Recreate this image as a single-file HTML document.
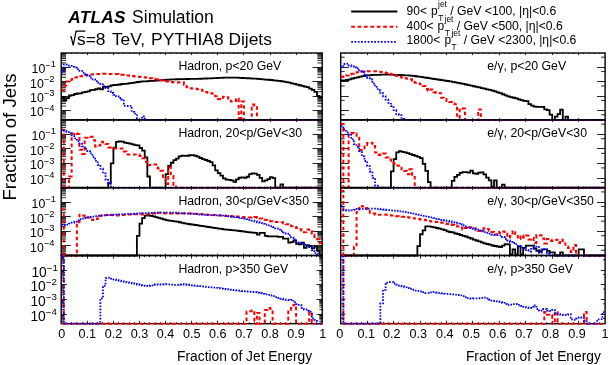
<!DOCTYPE html>
<html><head><meta charset="utf-8"><title>ATLAS</title><style>html,body{margin:0;padding:0;background:#fff;overflow:hidden}svg{display:block;will-change:transform}text{font-family:"Liberation Sans",sans-serif}</style></head><body>
<svg width="610" height="365" viewBox="0 0 610 365">
<rect width="610" height="365" fill="#fff"/>
<path d="M61.2 67.5h9.6M322.2 67.5h-9.6M61.2 62.91h4.8M322.2 62.91h-4.8M61.2 60.38h4.8M322.2 60.38h-4.8M61.2 58.58h4.8M322.2 58.58h-4.8M61.2 57.18h4.8M322.2 57.18h-4.8M61.2 56.04h4.8M322.2 56.04h-4.8M61.2 55.08h4.8M322.2 55.08h-4.8M61.2 54.24h4.8M322.2 54.24h-4.8M61.2 53.5h4.8M322.2 53.5h-4.8M61.2 81.5h9.6M322.2 81.5h-9.6M61.2 77.32h4.8M322.2 77.32h-4.8M61.2 74.78h4.8M322.2 74.78h-4.8M61.2 72.98h4.8M322.2 72.98h-4.8M61.2 71.58h4.8M322.2 71.58h-4.8M61.2 70.44h4.8M322.2 70.44h-4.8M61.2 69.48h4.8M322.2 69.48h-4.8M61.2 68.64h4.8M322.2 68.64h-4.8M61.2 67.91h4.8M322.2 67.91h-4.8M61.2 96.5h9.6M322.2 96.5h-9.6M61.2 91.72h4.8M322.2 91.72h-4.8M61.2 89.18h4.8M322.2 89.18h-4.8M61.2 87.38h4.8M322.2 87.38h-4.8M61.2 85.99h4.8M322.2 85.99h-4.8M61.2 84.85h4.8M322.2 84.85h-4.8M61.2 83.88h4.8M322.2 83.88h-4.8M61.2 83.05h4.8M322.2 83.05h-4.8M61.2 82.31h4.8M322.2 82.31h-4.8M61.2 110.5h9.6M322.2 110.5h-9.6M61.2 106.12h4.8M322.2 106.12h-4.8M61.2 103.58h4.8M322.2 103.58h-4.8M61.2 101.79h4.8M322.2 101.79h-4.8M61.2 100.39h4.8M322.2 100.39h-4.8M61.2 99.25h4.8M322.2 99.25h-4.8M61.2 98.28h4.8M322.2 98.28h-4.8M61.2 97.45h4.8M322.2 97.45h-4.8M61.2 96.71h4.8M322.2 96.71h-4.8M61.2 117.99h4.8M322.2 117.99h-4.8M61.2 116.19h4.8M322.2 116.19h-4.8M61.2 114.79h4.8M322.2 114.79h-4.8M61.2 113.65h4.8M322.2 113.65h-4.8M61.2 112.69h4.8M322.2 112.69h-4.8M61.2 111.85h4.8M322.2 111.85h-4.8M61.2 111.12h4.8M322.2 111.12h-4.8M66.5 119.9v-0.9M66.5 53v1M71.5 119.9v-0.9M71.5 53v1M76.5 119.9v-0.9M76.5 53v1M82.5 119.9v-0.9M82.5 53v1M87.5 119.9v-1.7M87.5 53v2.1M92.5 119.9v-0.9M92.5 53v1M97.5 119.9v-0.9M97.5 53v1M102.5 119.9v-0.9M102.5 53v1M108.5 119.9v-0.9M108.5 53v1M113.5 119.9v-1.7M113.5 53v2.1M118.5 119.9v-0.9M118.5 53v1M123.5 119.9v-0.9M123.5 53v1M129.5 119.9v-0.9M129.5 53v1M134.5 119.9v-0.9M134.5 53v1M139.5 119.9v-1.7M139.5 53v2.1M144.5 119.9v-0.9M144.5 53v1M149.5 119.9v-0.9M149.5 53v1M155.5 119.9v-0.9M155.5 53v1M160.5 119.9v-0.9M160.5 53v1M165.5 119.9v-1.7M165.5 53v2.1M170.5 119.9v-0.9M170.5 53v1M176.5 119.9v-0.9M176.5 53v1M181.5 119.9v-0.9M181.5 53v1M186.5 119.9v-0.9M186.5 53v1M191.5 119.9v-1.7M191.5 53v2.1M196.5 119.9v-0.9M196.5 53v1M202.5 119.9v-0.9M202.5 53v1M207.5 119.9v-0.9M207.5 53v1M212.5 119.9v-0.9M212.5 53v1M217.5 119.9v-1.7M217.5 53v2.1M223.5 119.9v-0.9M223.5 53v1M228.5 119.9v-0.9M228.5 53v1M233.5 119.9v-0.9M233.5 53v1M238.5 119.9v-0.9M238.5 53v1M243.5 119.9v-1.7M243.5 53v2.1M249.5 119.9v-0.9M249.5 53v1M254.5 119.9v-0.9M254.5 53v1M259.5 119.9v-0.9M259.5 53v1M264.5 119.9v-0.9M264.5 53v1M270.5 119.9v-1.7M270.5 53v2.1M275.5 119.9v-0.9M275.5 53v1M280.5 119.9v-0.9M280.5 53v1M285.5 119.9v-0.9M285.5 53v1M290.5 119.9v-0.9M290.5 53v1M296.5 119.9v-1.7M296.5 53v2.1M301.5 119.9v-0.9M301.5 53v1M306.5 119.9v-0.9M306.5 53v1M311.5 119.9v-0.9M311.5 53v1M316.5 119.9v-0.9M316.5 53v1" stroke="#000" stroke-width="0.85" fill="none"/>
<rect x="61.2" y="53" width="261" height="66.9" fill="none" stroke="#000" stroke-width="1.4"/>
<path d="M61.2 97.01H63.81V100.49H66.42V98.07H69.03V95.5H71.64V95.18H74.25V93.99H76.86V93.5H79.47V93.47H82.08V92.28H84.69V91.79H87.3V91.44H89.91V90.1H92.52V89.97H95.13V89.25H97.74V88.46H100.35V89.34H102.96V86.8H105.57V86.78H108.18V86.43H110.79V85.46H113.4V84.99H116.01V84.88H118.62V84.48H121.23V83.99H123.84V83.79H126.45V83.58H129.06V83.18H131.67V82.79H134.28V82.4H136.89V82.01H139.5V81.61H142.11V81.44H144.72V81.28H147.33V81.11H149.94V80.95H152.55V80.78H155.16V80.61H157.77V80.4H160.38V80.18H162.99V79.96H165.6V79.74H168.21V79.56H170.82V79.45H173.43V79.34H176.04V79.23H178.65V79.16H181.26V79.12H183.87V79.07H186.48V79.02H189.09V78.97H191.7V78.92H194.31V78.87H196.92V78.83H199.53V78.74H202.14V78.63H204.75V78.51H207.36V78.39H209.97V78.28H212.58V78.16H215.19V78.04H217.8V77.93H220.41V77.81H223.02V77.7H225.63V77.7H228.24V77.7H230.85V77.7H233.46V77.7H236.07V77.72H238.68V77.85H241.29V77.99H243.9V78.12H246.51V78.26H249.12V78.39H251.73V78.53H254.34V78.7H256.95V78.91H259.56V79.13H262.17V79.34H264.78V79.55H267.39V79.76H270V79.98H272.61V80.29H275.22V80.61H277.83V80.93H280.44V81.25H283.05V81.57H285.66V82.08H288.27V82.7H290.88V83.33H293.49V83.95H296.1V84.58H298.71V85.23H301.32V85.89H303.93V86.55H306.54V87.22H309.15V88.57H311.76V89.92H314.37V91.81H316.98V95.94H319.59V97.92H322.2" stroke="#000" stroke-width="1.8" fill="none"/>
<path d="M61.2 89.99H63.81V85.48H66.42V81.49H69.03V79.99H71.64V78.97H74.25V77.49H76.86V76.98H79.47V76.29H82.08V75.78H84.69V75.19H87.3V74.79H89.91V74.59H92.52V74.29H95.13V73.99H97.74V73.88H100.35V73.77H102.96V73.73H105.57V73.8H108.18V73.88H110.79V73.95H113.4V74.03H116.01V74.11H118.62V74.43H121.23V74.75H123.84V75.06H126.45V75.39H129.06V75.73H131.67V76.07H134.28V76.41H136.89V76.72H139.5V76.99H142.11V77.25H144.72V77.52H147.33V77.9H149.94V78.32H152.55V78.74H155.16V79.16H157.77V79.68H160.38V80.21H162.99V80.74H165.6V81.28H168.21V81.73H170.82V82.06H173.43V82.39H176.04V82.51H178.65V82.24H181.26V82.16H183.87V84.78H186.48V87.13H189.09V88.17H191.7V88.49H194.31V88.81H196.92V89.13H199.53V89.8H202.14V90.86H204.75V91.92H207.36V92.64H209.97V93.18H212.58V93.71H215.19V96.14H217.8V98.92H220.41V99.22H223.02V96.7H225.63V97.22H228.24V98.85H230.85V101.59H233.46V101.01H236.07V98.52H238.68V117.89H241.29V101.43H243.9V119.9H246.51V119.9H249.12V119.9H251.73V104.52H254.34V106H256.95V119.9H259.56V119.9H262.17V119.9H264.78V119.9H267.39V119.9H270V119.9H272.61V119.9H275.22V119.9H277.83V119.9H280.44V119.9H283.05V119.9H285.66V119.9H288.27V119.9H290.88V119.9H293.49V119.9H296.1V119.9H298.71V119.9H301.32V119.9H303.93V119.9H306.54V119.9H309.15V119.9H311.76V119.9H314.37V119.9H316.98V119.9H319.59V119.9H322.2" stroke="#ff0000" stroke-width="2" fill="none" stroke-dasharray="3.7 2.7"/>
<path d="M61.2 71.99H63.81V64.5H66.42V64.61H69.03V65.81H71.64V66.81H74.25V67.63H76.86V69.05H79.47V70.85H82.08V72.55H84.69V74.07H87.3V75.87H89.91V77.58H92.52V79.38H95.13V81.08H97.74V82.69H100.35V84.4H102.96V86.13H105.57V88.2H108.18V91.18H110.79V93H113.4V94.8H116.01V96.41H118.62V98.01H121.23V99.49H123.84V105.87H126.45V106H129.06V105.8H131.67V111.84H134.28V113.69H136.89V119.9H139.5V119.9H142.11V116.3H144.72V119.9H147.33V119.9H149.94V119.9H152.55V119.9H155.16V119.9H157.77V119.9H160.38V119.9H162.99V119.9H165.6V119.9H168.21V119.9H170.82V119.9H173.43V119.9H176.04V119.9H178.65V119.9H181.26V119.9H183.87V119.9H186.48V119.9H189.09V119.9H191.7V119.9H194.31V119.9H196.92V119.9H199.53V119.9H202.14V119.9H204.75V119.9H207.36V119.9H209.97V119.9H212.58V119.9H215.19V119.9H217.8V119.9H220.41V119.9H223.02V119.9H225.63V119.9H228.24V119.9H230.85V119.9H233.46V119.9H236.07V119.9H238.68V119.9H241.29V119.9H243.9V119.9H246.51V119.9H249.12V119.9H251.73V119.9H254.34V119.9H256.95V119.9H259.56V119.9H262.17V119.9H264.78V119.9H267.39V119.9H270V119.9H272.61V119.9H275.22V119.9H277.83V119.9H280.44V119.9H283.05V119.9H285.66V119.9H288.27V119.9H290.88V119.9H293.49V119.9H296.1V119.9H298.71V119.9H301.32V119.9H303.93V119.9H306.54V119.9H309.15V119.9H311.76V119.9H314.37V119.9H316.98V119.9H319.59V119.9H322.2" stroke="#0000ff" stroke-width="1.8" fill="none" stroke-dasharray="1.6 1.5"/>
<path d="M61.2 134.5h9.6M322.2 134.5h-9.6M61.2 129.94h4.8M322.2 129.94h-4.8M61.2 127.37h4.8M322.2 127.37h-4.8M61.2 125.55h4.8M322.2 125.55h-4.8M61.2 124.13h4.8M322.2 124.13h-4.8M61.2 122.98h4.8M322.2 122.98h-4.8M61.2 122h4.8M322.2 122h-4.8M61.2 121.15h4.8M322.2 121.15h-4.8M61.2 120.41h4.8M322.2 120.41h-4.8M61.2 148.5h9.6M322.2 148.5h-9.6M61.2 144.54h4.8M322.2 144.54h-4.8M61.2 141.97h4.8M322.2 141.97h-4.8M61.2 140.14h4.8M322.2 140.14h-4.8M61.2 138.73h4.8M322.2 138.73h-4.8M61.2 137.57h4.8M322.2 137.57h-4.8M61.2 136.6h4.8M322.2 136.6h-4.8M61.2 135.75h4.8M322.2 135.75h-4.8M61.2 135h4.8M322.2 135h-4.8M61.2 163.5h9.6M322.2 163.5h-9.6M61.2 159.13h4.8M322.2 159.13h-4.8M61.2 156.56h4.8M322.2 156.56h-4.8M61.2 154.74h4.8M322.2 154.74h-4.8M61.2 153.33h4.8M322.2 153.33h-4.8M61.2 152.17h4.8M322.2 152.17h-4.8M61.2 151.19h4.8M322.2 151.19h-4.8M61.2 150.35h4.8M322.2 150.35h-4.8M61.2 149.6h4.8M322.2 149.6h-4.8M61.2 178.5h9.6M322.2 178.5h-9.6M61.2 173.73h4.8M322.2 173.73h-4.8M61.2 171.16h4.8M322.2 171.16h-4.8M61.2 169.34h4.8M322.2 169.34h-4.8M61.2 167.92h4.8M322.2 167.92h-4.8M61.2 166.77h4.8M322.2 166.77h-4.8M61.2 165.79h4.8M322.2 165.79h-4.8M61.2 164.94h4.8M322.2 164.94h-4.8M61.2 164.2h4.8M322.2 164.2h-4.8M61.2 185.76h4.8M322.2 185.76h-4.8M61.2 183.93h4.8M322.2 183.93h-4.8M61.2 182.52h4.8M322.2 182.52h-4.8M61.2 181.36h4.8M322.2 181.36h-4.8M61.2 180.39h4.8M322.2 180.39h-4.8M61.2 179.54h4.8M322.2 179.54h-4.8M61.2 178.79h4.8M322.2 178.79h-4.8M66.5 187.7v-0.9M66.5 119.9v1M71.5 187.7v-0.9M71.5 119.9v1M76.5 187.7v-0.9M76.5 119.9v1M82.5 187.7v-0.9M82.5 119.9v1M87.5 187.7v-1.7M87.5 119.9v2.1M92.5 187.7v-0.9M92.5 119.9v1M97.5 187.7v-0.9M97.5 119.9v1M102.5 187.7v-0.9M102.5 119.9v1M108.5 187.7v-0.9M108.5 119.9v1M113.5 187.7v-1.7M113.5 119.9v2.1M118.5 187.7v-0.9M118.5 119.9v1M123.5 187.7v-0.9M123.5 119.9v1M129.5 187.7v-0.9M129.5 119.9v1M134.5 187.7v-0.9M134.5 119.9v1M139.5 187.7v-1.7M139.5 119.9v2.1M144.5 187.7v-0.9M144.5 119.9v1M149.5 187.7v-0.9M149.5 119.9v1M155.5 187.7v-0.9M155.5 119.9v1M160.5 187.7v-0.9M160.5 119.9v1M165.5 187.7v-1.7M165.5 119.9v2.1M170.5 187.7v-0.9M170.5 119.9v1M176.5 187.7v-0.9M176.5 119.9v1M181.5 187.7v-0.9M181.5 119.9v1M186.5 187.7v-0.9M186.5 119.9v1M191.5 187.7v-1.7M191.5 119.9v2.1M196.5 187.7v-0.9M196.5 119.9v1M202.5 187.7v-0.9M202.5 119.9v1M207.5 187.7v-0.9M207.5 119.9v1M212.5 187.7v-0.9M212.5 119.9v1M217.5 187.7v-1.7M217.5 119.9v2.1M223.5 187.7v-0.9M223.5 119.9v1M228.5 187.7v-0.9M228.5 119.9v1M233.5 187.7v-0.9M233.5 119.9v1M238.5 187.7v-0.9M238.5 119.9v1M243.5 187.7v-1.7M243.5 119.9v2.1M249.5 187.7v-0.9M249.5 119.9v1M254.5 187.7v-0.9M254.5 119.9v1M259.5 187.7v-0.9M259.5 119.9v1M264.5 187.7v-0.9M264.5 119.9v1M270.5 187.7v-1.7M270.5 119.9v2.1M275.5 187.7v-0.9M275.5 119.9v1M280.5 187.7v-0.9M280.5 119.9v1M285.5 187.7v-0.9M285.5 119.9v1M290.5 187.7v-0.9M290.5 119.9v1M296.5 187.7v-1.7M296.5 119.9v2.1M301.5 187.7v-0.9M301.5 119.9v1M306.5 187.7v-0.9M306.5 119.9v1M311.5 187.7v-0.9M311.5 119.9v1M316.5 187.7v-0.9M316.5 119.9v1" stroke="#000" stroke-width="0.85" fill="none"/>
<rect x="61.2" y="119.9" width="261" height="67.8" fill="none" stroke="#000" stroke-width="1.4"/>
<path d="M61.2 187.7H63.81V187.7H66.42V187.7H69.03V187.7H71.64V187.7H74.25V187.7H76.86V187.7H79.47V187.7H82.08V187.7H84.69V187.7H87.3V187.7H89.91V187.7H92.52V187.7H95.13V187.7H97.74V187.7H100.35V187.7H102.96V187.7H105.57V187.7H108.18V183.5H110.79V163.44H113.4V147.69H116.01V141.8H118.62V141.33H121.23V141.65H123.84V142.71H126.45V143.15H129.06V143.59H131.67V144.34H134.28V145.2H136.89V145.4H139.5V148H142.11V150.54H144.72V157.39H147.33V176.5H149.94V187.7H152.55V187.7H155.16V187.7H157.77V187.7H160.38V187.7H162.99V187.7H165.6V174.03H168.21V165.78H170.82V162.75H173.43V160.21H176.04V158.69H178.65V156.42H181.26V155.61H183.87V155.97H186.48V155.77H189.09V155.26H191.7V155.1H194.31V155.74H196.92V156.67H199.53V158.01H202.14V159.09H204.75V159.98H207.36V160.98H209.97V162.04H212.58V165.36H215.19V170.3H217.8V173.11H220.41V175.71H223.02V178.38H225.63V179.62H228.24V179.83H230.85V180.31H233.46V181.76H236.07V179.39H238.68V177.76H241.29V177.29H243.9V177.93H246.51V176.75H249.12V174.11H251.73V173.3H254.34V173.64H256.95V174.84H259.56V177.9H262.17V181.37H264.78V180.4H267.39V179.2H270V177.19H272.61V178.2H275.22V187.7H277.83V187.7H280.44V184.4H283.05V187.7H285.66V187.7H288.27V187.7H290.88V187.7H293.49V187.7H296.1V187.7H298.71V187.7H301.32V187.7H303.93V187.7H306.54V187.7H309.15V187.7H311.76V187.7H314.37V187.7H316.98V187.7H319.59V187.7H322.2" stroke="#000" stroke-width="1.8" fill="none"/>
<path d="M61.2 129.8H63.81V187.7H66.42V187.7H69.03V176.42H71.64V133.79H74.25V133.2H76.86V134.01H79.47V149.74H82.08V153.95H84.69V137.66H87.3V136.7H89.91V136.84H92.52V140.13H95.13V146.55H97.74V145.48H100.35V141.74H102.96V142.39H105.57V143.96H108.18V147.6H110.79V147.67H113.4V148.6H116.01V148.6H118.62V148.6H121.23V148.6H123.84V151.62H126.45V154.5H129.06V154.5H131.67V154.5H134.28V154.5H136.89V154.5H139.5V155.93H142.11V158.19H144.72V161.7H147.33V165.18H149.94V164.77H152.55V164.4H155.16V164.4H157.77V168.41H160.38V170.69H162.99V176.89H165.6V183.88H168.21V167.35H170.82V175.96H173.43V185H176.04V187.7H178.65V187.7H181.26V187.7H183.87V187.7H186.48V187.7H189.09V187.7H191.7V187.7H194.31V187.7H196.92V187.7H199.53V187.7H202.14V187.7H204.75V187.7H207.36V187.7H209.97V187.7H212.58V187.7H215.19V187.7H217.8V187.7H220.41V187.7H223.02V187.7H225.63V187.7H228.24V187.7H230.85V187.7H233.46V187.7H236.07V187.7H238.68V187.7H241.29V187.7H243.9V187.7H246.51V187.7H249.12V187.7H251.73V187.7H254.34V187.7H256.95V187.7H259.56V187.7H262.17V187.7H264.78V187.7H267.39V187.7H270V187.7H272.61V187.7H275.22V187.7H277.83V187.7H280.44V187.7H283.05V187.7H285.66V187.7H288.27V187.7H290.88V187.7H293.49V187.7H296.1V187.7H298.71V187.7H301.32V187.7H303.93V187.7H306.54V187.7H309.15V187.7H311.76V187.7H314.37V187.7H316.98V187.7H319.59V187.7H322.2" stroke="#ff0000" stroke-width="2" fill="none" stroke-dasharray="3.7 2.7"/>
<path d="M61.2 129.78H63.81V130.91H66.42V132.12H69.03V133.12H71.64V135.45H74.25V138.28H76.86V141.16H79.47V143.77H82.08V146.38H84.69V148.92H87.3V151H89.91V153.47H92.52V157.18H95.13V160.89H97.74V164.73H100.35V168.67H102.96V173.45H105.57V179.94H108.18V182.49H110.79V187.7H113.4V187.7H116.01V187.7H118.62V187.7H121.23V187.7H123.84V187.7H126.45V187.7H129.06V187.7H131.67V187.7H134.28V187.7H136.89V187.7H139.5V187.7H142.11V187.7H144.72V187.7H147.33V187.7H149.94V187.7H152.55V187.7H155.16V187.7H157.77V187.7H160.38V187.7H162.99V187.7H165.6V187.7H168.21V187.7H170.82V187.7H173.43V187.7H176.04V187.7H178.65V187.7H181.26V187.7H183.87V187.7H186.48V187.7H189.09V187.7H191.7V187.7H194.31V187.7H196.92V187.7H199.53V187.7H202.14V187.7H204.75V187.7H207.36V187.7H209.97V187.7H212.58V187.7H215.19V187.7H217.8V187.7H220.41V187.7H223.02V187.7H225.63V187.7H228.24V187.7H230.85V187.7H233.46V187.7H236.07V187.7H238.68V187.7H241.29V187.7H243.9V187.7H246.51V187.7H249.12V187.7H251.73V187.7H254.34V187.7H256.95V187.7H259.56V187.7H262.17V187.7H264.78V187.7H267.39V187.7H270V187.7H272.61V187.7H275.22V187.7H277.83V187.7H280.44V187.7H283.05V187.7H285.66V187.7H288.27V187.7H290.88V187.7H293.49V187.7H296.1V187.7H298.71V187.7H301.32V187.7H303.93V187.7H306.54V187.7H309.15V187.7H311.76V187.7H314.37V187.7H316.98V187.7H319.59V187.7H322.2" stroke="#0000ff" stroke-width="1.8" fill="none" stroke-dasharray="1.6 1.5"/>
<path d="M61.2 202.5h9.6M322.2 202.5h-9.6M61.2 197.74h4.8M322.2 197.74h-4.8M61.2 195.17h4.8M322.2 195.17h-4.8M61.2 193.35h4.8M322.2 193.35h-4.8M61.2 191.93h4.8M322.2 191.93h-4.8M61.2 190.78h4.8M322.2 190.78h-4.8M61.2 189.8h4.8M322.2 189.8h-4.8M61.2 188.95h4.8M322.2 188.95h-4.8M61.2 188.21h4.8M322.2 188.21h-4.8M61.2 216.5h9.6M322.2 216.5h-9.6M61.2 212.34h4.8M322.2 212.34h-4.8M61.2 209.77h4.8M322.2 209.77h-4.8M61.2 207.94h4.8M322.2 207.94h-4.8M61.2 206.53h4.8M322.2 206.53h-4.8M61.2 205.37h4.8M322.2 205.37h-4.8M61.2 204.4h4.8M322.2 204.4h-4.8M61.2 203.55h4.8M322.2 203.55h-4.8M61.2 202.8h4.8M322.2 202.8h-4.8M61.2 231.5h9.6M322.2 231.5h-9.6M61.2 226.93h4.8M322.2 226.93h-4.8M61.2 224.36h4.8M322.2 224.36h-4.8M61.2 222.54h4.8M322.2 222.54h-4.8M61.2 221.13h4.8M322.2 221.13h-4.8M61.2 219.97h4.8M322.2 219.97h-4.8M61.2 218.99h4.8M322.2 218.99h-4.8M61.2 218.15h4.8M322.2 218.15h-4.8M61.2 217.4h4.8M322.2 217.4h-4.8M61.2 245.5h9.6M322.2 245.5h-9.6M61.2 241.53h4.8M322.2 241.53h-4.8M61.2 238.96h4.8M322.2 238.96h-4.8M61.2 237.14h4.8M322.2 237.14h-4.8M61.2 235.72h4.8M322.2 235.72h-4.8M61.2 234.57h4.8M322.2 234.57h-4.8M61.2 233.59h4.8M322.2 233.59h-4.8M61.2 232.74h4.8M322.2 232.74h-4.8M61.2 232h4.8M322.2 232h-4.8M61.2 253.56h4.8M322.2 253.56h-4.8M61.2 251.73h4.8M322.2 251.73h-4.8M61.2 250.32h4.8M322.2 250.32h-4.8M61.2 249.16h4.8M322.2 249.16h-4.8M61.2 248.19h4.8M322.2 248.19h-4.8M61.2 247.34h4.8M322.2 247.34h-4.8M61.2 246.59h4.8M322.2 246.59h-4.8M66.5 255.5v-0.9M66.5 187.7v1M71.5 255.5v-0.9M71.5 187.7v1M76.5 255.5v-0.9M76.5 187.7v1M82.5 255.5v-0.9M82.5 187.7v1M87.5 255.5v-1.7M87.5 187.7v2.1M92.5 255.5v-0.9M92.5 187.7v1M97.5 255.5v-0.9M97.5 187.7v1M102.5 255.5v-0.9M102.5 187.7v1M108.5 255.5v-0.9M108.5 187.7v1M113.5 255.5v-1.7M113.5 187.7v2.1M118.5 255.5v-0.9M118.5 187.7v1M123.5 255.5v-0.9M123.5 187.7v1M129.5 255.5v-0.9M129.5 187.7v1M134.5 255.5v-0.9M134.5 187.7v1M139.5 255.5v-1.7M139.5 187.7v2.1M144.5 255.5v-0.9M144.5 187.7v1M149.5 255.5v-0.9M149.5 187.7v1M155.5 255.5v-0.9M155.5 187.7v1M160.5 255.5v-0.9M160.5 187.7v1M165.5 255.5v-1.7M165.5 187.7v2.1M170.5 255.5v-0.9M170.5 187.7v1M176.5 255.5v-0.9M176.5 187.7v1M181.5 255.5v-0.9M181.5 187.7v1M186.5 255.5v-0.9M186.5 187.7v1M191.5 255.5v-1.7M191.5 187.7v2.1M196.5 255.5v-0.9M196.5 187.7v1M202.5 255.5v-0.9M202.5 187.7v1M207.5 255.5v-0.9M207.5 187.7v1M212.5 255.5v-0.9M212.5 187.7v1M217.5 255.5v-1.7M217.5 187.7v2.1M223.5 255.5v-0.9M223.5 187.7v1M228.5 255.5v-0.9M228.5 187.7v1M233.5 255.5v-0.9M233.5 187.7v1M238.5 255.5v-0.9M238.5 187.7v1M243.5 255.5v-1.7M243.5 187.7v2.1M249.5 255.5v-0.9M249.5 187.7v1M254.5 255.5v-0.9M254.5 187.7v1M259.5 255.5v-0.9M259.5 187.7v1M264.5 255.5v-0.9M264.5 187.7v1M270.5 255.5v-1.7M270.5 187.7v2.1M275.5 255.5v-0.9M275.5 187.7v1M280.5 255.5v-0.9M280.5 187.7v1M285.5 255.5v-0.9M285.5 187.7v1M290.5 255.5v-0.9M290.5 187.7v1M296.5 255.5v-1.7M296.5 187.7v2.1M301.5 255.5v-0.9M301.5 187.7v1M306.5 255.5v-0.9M306.5 187.7v1M311.5 255.5v-0.9M311.5 187.7v1M316.5 255.5v-0.9M316.5 187.7v1" stroke="#000" stroke-width="0.85" fill="none"/>
<rect x="61.2" y="187.7" width="261" height="67.8" fill="none" stroke="#000" stroke-width="1.4"/>
<path d="M61.2 255.5H63.81V255.5H66.42V255.5H69.03V255.5H71.64V255.5H74.25V255.5H76.86V255.5H79.47V255.5H82.08V255.5H84.69V255.5H87.3V255.5H89.91V255.5H92.52V255.5H95.13V255.5H97.74V255.5H100.35V255.5H102.96V255.5H105.57V255.5H108.18V255.5H110.79V255.5H113.4V255.5H116.01V255.5H118.62V255.5H121.23V255.5H123.84V255.5H126.45V255.5H129.06V255.5H131.67V255.5H134.28V255.5H136.89V235.9H139.5V223.59H142.11V218.19H144.72V215.7H147.33V215.23H149.94V215.78H152.55V216.4H155.16V217.14H157.77V217.93H160.38V218.72H162.99V219.43H165.6V220.09H168.21V220.63H170.82V220.96H173.43V221.29H176.04V221.7H178.65V222.25H181.26V222.8H183.87V223.35H186.48V223.87H189.09V224.25H191.7V224.63H194.31V225.02H196.92V225.4H199.53V225.79H202.14V226.19H204.75V226.6H207.36V227H209.97V227.4H212.58V227.79H215.19V228.17H217.8V228.55H220.41V228.94H223.02V229.31H225.63V229.57H228.24V229.82H230.85V230.08H233.46V230.33H236.07V230.62H238.68V230.98H241.29V231.34H243.9V231.7H246.51V232.06H249.12V232.37H251.73V232.63H254.34V232.9H256.95V234.6H259.56V232.9H262.17V232.91H264.78V235.8H267.39V236.3H270V236.3H272.61V236.3H275.22V236.3H277.83V236.9H280.44V236.9H283.05V238.6H285.66V238.61H288.27V242.7H290.88V242.1H293.49V240.41H296.1V243.8H298.71V244.4H301.32V242.71H303.93V247.8H306.54V245.5H309.15V246H311.76V248.4H314.37V246.71H316.98V250.7H319.59V255.5H322.2" stroke="#000" stroke-width="1.8" fill="none"/>
<path d="M61.2 209.5H63.81V255.5H66.42V255.5H69.03V255.5H71.64V255.5H74.25V255.5H76.86V222.3H79.47V214.63H82.08V215.54H84.69V216.64H87.3V217.6H89.91V219.54H92.52V220H95.13V219H97.74V217.41H100.35V215.57H102.96V215.24H105.57V214.91H108.18V214.62H110.79V214.95H113.4V215.28H116.01V215.59H118.62V215.32H121.23V215.06H123.84V214.8H126.45V214.57H129.06V214.47H131.67V214.36H134.28V214.26H136.89V214.25H139.5V214.36H142.11V214.46H144.72V214.57H147.33V214.23H149.94V213.7H152.55V213.17H155.16V212.65H157.77V212.8H160.38V213.02H162.99V213.24H165.6V213.46H168.21V213.6H170.82V213.6H173.43V213.6H176.04V213.57H178.65V213.5H181.26V213.43H183.87V213.36H186.48V213.33H189.09V213.48H191.7V213.62H194.31V213.77H196.92V213.92H199.53V214.1H202.14V214.31H204.75V214.52H207.36V214.74H209.97V214.95H212.58V215.11H215.19V215.26H217.8V215.41H220.41V215.56H223.02V215.71H225.63V215.88H228.24V216.05H230.85V216.22H233.46V216.39H236.07V216.57H238.68V216.78H241.29V217H243.9V217.21H246.51V217.42H249.12V217.39H251.73V217.21H254.34V217.03H256.95V217.7H259.56V218.55H262.17V219.39H264.78V220.05H267.39V220.71H270V221.37H272.61V221.9H275.22V221.9H277.83V221.9H280.44V222.31H283.05V223.33H285.66V224.36H288.27V225.3H290.88V226.18H293.49V227.06H296.1V228.12H298.71V229.25H301.32V230.38H303.93V232.26H306.54V229.52H309.15V230.97H311.76V234.55H314.37V236.98H316.98V239.19H319.59V243.19H322.2" stroke="#ff0000" stroke-width="2" fill="none" stroke-dasharray="3.7 2.7"/>
<path d="M61.2 225.5H63.81V225.02H66.42V224.53H69.03V223.58H71.64V222.58H74.25V221.59H76.86V220.29H79.47V219.24H82.08V218.61H84.69V217.99H87.3V217.44H89.91V217.02H92.52V216.59H95.13V216.17H97.74V215.84H100.35V215.58H102.96V215.31H105.57V215.04H108.18V214.91H110.79V214.81H113.4V214.7H116.01V214.59H118.62V214.43H121.23V214.28H123.84V214.12H126.45V213.97H129.06V213.87H131.67V213.76H134.28V213.66H136.89V213.53H139.5V213.37H142.11V213.21H144.72V213.05H147.33V212.93H149.94V212.82H152.55V212.71H155.16V212.61H157.77V212.6H160.38V212.6H162.99V212.6H165.6V212.6H168.21V212.6H170.82V212.6H173.43V212.6H176.04V212.68H178.65V212.89H181.26V213.1H183.87V213.32H186.48V213.53H189.09V213.75H191.7V213.96H194.31V214.17H196.92V214.39H199.53V214.56H202.14V214.69H204.75V214.81H207.36V214.94H209.97V215.07H212.58V215.2H215.19V215.32H217.8V215.45H220.41V215.58H223.02V215.71H225.63V215.99H228.24V216.26H230.85V216.54H233.46V216.82H236.07V217.17H238.68V217.68H241.29V218.19H243.9V218.7H246.51V219.21H249.12V219.89H251.73V220.67H254.34V221.46H256.95V222.24H259.56V223.03H262.17V223.81H264.78V224.6H267.39V225.38H270V226.17H272.61V227.06H275.22V228.38H277.83V229.71H280.44V231.02H283.05V232.33H285.66V233.63H288.27V235.31H290.88V237.28H293.49V239.7H296.1V242.31H298.71V243.31H301.32V243.93H303.93V244.57H306.54V245.23H309.15V246.99H311.76V250.11H314.37V253.1H316.98V255.5H319.59V255.5H322.2" stroke="#0000ff" stroke-width="1.8" fill="none" stroke-dasharray="1.6 1.5"/>
<path d="M61.2 270.5h5.7M322.2 270.5h-5.7M61.2 265.6h2.9M322.2 265.6h-2.9M61.2 263.01h2.9M322.2 263.01h-2.9M61.2 261.18h2.9M322.2 261.18h-2.9M61.2 259.76h2.9M322.2 259.76h-2.9M61.2 258.59h2.9M322.2 258.59h-2.9M61.2 257.61h2.9M322.2 257.61h-2.9M61.2 256.76h2.9M322.2 256.76h-2.9M61.2 256.01h2.9M322.2 256.01h-2.9M61.2 284.5h5.7M322.2 284.5h-5.7M61.2 280.28h2.9M322.2 280.28h-2.9M61.2 277.7h2.9M322.2 277.7h-2.9M61.2 275.86h2.9M322.2 275.86h-2.9M61.2 274.44h2.9M322.2 274.44h-2.9M61.2 273.28h2.9M322.2 273.28h-2.9M61.2 272.29h2.9M322.2 272.29h-2.9M61.2 271.44h2.9M322.2 271.44h-2.9M61.2 270.69h2.9M322.2 270.69h-2.9M61.2 299.5h5.7M322.2 299.5h-5.7M61.2 294.96h2.9M322.2 294.96h-2.9M61.2 292.38h2.9M322.2 292.38h-2.9M61.2 290.54h2.9M322.2 290.54h-2.9M61.2 289.12h2.9M322.2 289.12h-2.9M61.2 287.96h2.9M322.2 287.96h-2.9M61.2 286.98h2.9M322.2 286.98h-2.9M61.2 286.12h2.9M322.2 286.12h-2.9M61.2 285.37h2.9M322.2 285.37h-2.9M61.2 314.5h5.7M322.2 314.5h-5.7M61.2 309.65h2.9M322.2 309.65h-2.9M61.2 307.06h2.9M322.2 307.06h-2.9M61.2 305.23h2.9M322.2 305.23h-2.9M61.2 303.8h2.9M322.2 303.8h-2.9M61.2 302.64h2.9M322.2 302.64h-2.9M61.2 301.66h2.9M322.2 301.66h-2.9M61.2 300.81h2.9M322.2 300.81h-2.9M61.2 300.06h2.9M322.2 300.06h-2.9M61.2 321.74h2.9M322.2 321.74h-2.9M61.2 319.91h2.9M322.2 319.91h-2.9M61.2 318.49h2.9M322.2 318.49h-2.9M61.2 317.32h2.9M322.2 317.32h-2.9M61.2 316.34h2.9M322.2 316.34h-2.9M61.2 315.49h2.9M322.2 315.49h-2.9M61.2 314.74h2.9M322.2 314.74h-2.9M66.5 323.7v-1.5M66.5 255.5v1.6M71.5 323.7v-1.5M71.5 255.5v1.6M76.5 323.7v-1.5M76.5 255.5v1.6M82.5 323.7v-1.5M82.5 255.5v1.6M87.5 323.7v-2.9M87.5 255.5v3.2M92.5 323.7v-1.5M92.5 255.5v1.6M97.5 323.7v-1.5M97.5 255.5v1.6M102.5 323.7v-1.5M102.5 255.5v1.6M108.5 323.7v-1.5M108.5 255.5v1.6M113.5 323.7v-2.9M113.5 255.5v3.2M118.5 323.7v-1.5M118.5 255.5v1.6M123.5 323.7v-1.5M123.5 255.5v1.6M129.5 323.7v-1.5M129.5 255.5v1.6M134.5 323.7v-1.5M134.5 255.5v1.6M139.5 323.7v-2.9M139.5 255.5v3.2M144.5 323.7v-1.5M144.5 255.5v1.6M149.5 323.7v-1.5M149.5 255.5v1.6M155.5 323.7v-1.5M155.5 255.5v1.6M160.5 323.7v-1.5M160.5 255.5v1.6M165.5 323.7v-2.9M165.5 255.5v3.2M170.5 323.7v-1.5M170.5 255.5v1.6M176.5 323.7v-1.5M176.5 255.5v1.6M181.5 323.7v-1.5M181.5 255.5v1.6M186.5 323.7v-1.5M186.5 255.5v1.6M191.5 323.7v-2.9M191.5 255.5v3.2M196.5 323.7v-1.5M196.5 255.5v1.6M202.5 323.7v-1.5M202.5 255.5v1.6M207.5 323.7v-1.5M207.5 255.5v1.6M212.5 323.7v-1.5M212.5 255.5v1.6M217.5 323.7v-2.9M217.5 255.5v3.2M223.5 323.7v-1.5M223.5 255.5v1.6M228.5 323.7v-1.5M228.5 255.5v1.6M233.5 323.7v-1.5M233.5 255.5v1.6M238.5 323.7v-1.5M238.5 255.5v1.6M243.5 323.7v-2.9M243.5 255.5v3.2M249.5 323.7v-1.5M249.5 255.5v1.6M254.5 323.7v-1.5M254.5 255.5v1.6M259.5 323.7v-1.5M259.5 255.5v1.6M264.5 323.7v-1.5M264.5 255.5v1.6M270.5 323.7v-2.9M270.5 255.5v3.2M275.5 323.7v-1.5M275.5 255.5v1.6M280.5 323.7v-1.5M280.5 255.5v1.6M285.5 323.7v-1.5M285.5 255.5v1.6M290.5 323.7v-1.5M290.5 255.5v1.6M296.5 323.7v-2.9M296.5 255.5v3.2M301.5 323.7v-1.5M301.5 255.5v1.6M306.5 323.7v-1.5M306.5 255.5v1.6M311.5 323.7v-1.5M311.5 255.5v1.6M316.5 323.7v-1.5M316.5 255.5v1.6" stroke="#000" stroke-width="0.85" fill="none"/>
<rect x="61.2" y="255.5" width="261" height="68.2" fill="none" stroke="#000" stroke-width="1.4"/>
<path d="M61.2 255.5H63.81V323.7H66.42V323.7H69.03V323.7H71.64V323.7H74.25V323.7H76.86V323.7H79.47V323.7H82.08V323.7H84.69V323.7H87.3V323.7H89.91V323.7H92.52V323.7H95.13V323.7H97.74V323.7H100.35V323.7H102.96V323.7H105.57V323.7H108.18V323.7H110.79V323.7H113.4V323.7H116.01V323.7H118.62V323.7H121.23V323.7H123.84V323.7H126.45V323.7H129.06V323.7H131.67V323.7H134.28V323.7H136.89V323.7H139.5V323.7H142.11V323.7H144.72V323.7H147.33V323.7H149.94V323.7H152.55V323.7H155.16V323.7H157.77V323.7H160.38V323.7H162.99V323.7H165.6V323.7H168.21V323.7H170.82V323.7H173.43V323.7H176.04V323.7H178.65V323.7H181.26V323.7H183.87V323.7H186.48V323.7H189.09V323.7H191.7V323.7H194.31V323.7H196.92V323.7H199.53V323.7H202.14V323.7H204.75V323.7H207.36V323.7H209.97V323.7H212.58V323.7H215.19V323.7H217.8V323.7H220.41V323.7H223.02V323.7H225.63V323.7H228.24V323.7H230.85V323.7H233.46V323.7H236.07V323.7H238.68V323.7H241.29V323.7H243.9V323.7H246.51V311.4H249.12V311.19H251.73V310.6H254.34V323.7H256.95V312.9H259.56V323.7H262.17V323.7H264.78V310H267.39V308H270V308.8H272.61V323.7H275.22V323.7H277.83V323.7H280.44V323.7H283.05V323.7H285.66V323.7H288.27V310H290.88V308.01H293.49V304.71H296.1V323.7H298.71V323.7H301.32V323.7H303.93V323.7H306.54V323.7H309.15V312.1H311.76V323.7H314.37V323.7H316.98V323.7H319.59V323.7H322.2" stroke="#ff0000" stroke-width="2" fill="none" stroke-dasharray="3.7 2.7"/>
<path d="M61.2 255.5H63.81V323.7H66.42V323.7H69.03V323.7H71.64V323.7H74.25V323.7H76.86V323.7H79.47V323.7H82.08V323.7H84.69V323.7H87.3V323.7H89.91V323.7H92.52V323.7H95.13V323.7H97.74V323.7H100.35V298.4H102.96V285.77H105.57V278.07H108.18V277.7H110.79V278.54H113.4V279.39H116.01V280.22H118.62V280.75H121.23V281.28H123.84V281.81H126.45V282.33H129.06V282.86H131.67V283.39H134.28V283.91H136.89V284.48H139.5V285.1H142.11V285.65H144.72V285.92H147.33V286.18H149.94V285.37H152.55V284.49H155.16V284.32H157.77V284.5H160.38V284.53H162.99V284.35H165.6V284.23H168.21V284.44H170.82V284.65H173.43V284.87H176.04V284.87H178.65V284.53H181.26V284.22H183.87V284.49H186.48V284.77H189.09V285.05H191.7V285.32H194.31V285.6H196.92V285.9H199.53V286.2H202.14V286.5H204.75V286.79H207.36V287.08H209.97V287.35H212.58V287.63H215.19V287.9H217.8V288.18H220.41V288.53H223.02V288.89H225.63V289.26H228.24V289.62H230.85V289.95H233.46V290.21H236.07V290.47H238.68V290.72H241.29V290.98H243.9V291.24H246.51V291.49H249.12V291.75H251.73V292H254.34V292.26H256.95V292.74H259.56V293.26H262.17V293.79H264.78V294.32H267.39V294.92H270V295.52H272.61V296.18H275.22V297.07H277.83V297.96H280.44V298.74H283.05V299.34H285.66V299.94H288.27V300.05H290.88V299.78H293.49V302.36H296.1V304.06H298.71V304.97H301.32V307.95H303.93V309.49H306.54V310.81H309.15V311.66H311.76V318.45H314.37V319.9H316.98V323.7H319.59V323.7H322.2" stroke="#0000ff" stroke-width="1.8" fill="none" stroke-dasharray="1.6 1.5"/>
<path d="M340.7 67.5h8.1M605.1 67.5h-8.1M340.7 57.18h4M605.1 57.18h-4M340.7 81.5h8.1M605.1 81.5h-8.1M340.7 71.58h4M605.1 71.58h-4M340.7 96.5h8.1M605.1 96.5h-8.1M340.7 85.99h4M605.1 85.99h-4M340.7 110.5h8.1M605.1 110.5h-8.1M340.7 100.39h4M605.1 100.39h-4M340.7 114.79h4M605.1 114.79h-4M345.5 119.9v-0.9M345.5 53v1M351.5 119.9v-0.9M351.5 53v1M356.5 119.9v-0.9M356.5 53v1M361.5 119.9v-0.9M361.5 53v1M367.5 119.9v-1.7M367.5 53v2.1M372.5 119.9v-0.9M372.5 53v1M377.5 119.9v-0.9M377.5 53v1M383.5 119.9v-0.9M383.5 53v1M388.5 119.9v-0.9M388.5 53v1M393.5 119.9v-1.7M393.5 53v2.1M398.5 119.9v-0.9M398.5 53v1M404.5 119.9v-0.9M404.5 53v1M409.5 119.9v-0.9M409.5 53v1M414.5 119.9v-0.9M414.5 53v1M420.5 119.9v-1.7M420.5 53v2.1M425.5 119.9v-0.9M425.5 53v1M430.5 119.9v-0.9M430.5 53v1M435.5 119.9v-0.9M435.5 53v1M441.5 119.9v-0.9M441.5 53v1M446.5 119.9v-1.7M446.5 53v2.1M451.5 119.9v-0.9M451.5 53v1M457.5 119.9v-0.9M457.5 53v1M462.5 119.9v-0.9M462.5 53v1M467.5 119.9v-0.9M467.5 53v1M472.5 119.9v-1.7M472.5 53v2.1M478.5 119.9v-0.9M478.5 53v1M483.5 119.9v-0.9M483.5 53v1M488.5 119.9v-0.9M488.5 53v1M494.5 119.9v-0.9M494.5 53v1M499.5 119.9v-1.7M499.5 53v2.1M504.5 119.9v-0.9M504.5 53v1M509.5 119.9v-0.9M509.5 53v1M515.5 119.9v-0.9M515.5 53v1M520.5 119.9v-0.9M520.5 53v1M525.5 119.9v-1.7M525.5 53v2.1M531.5 119.9v-0.9M531.5 53v1M536.5 119.9v-0.9M536.5 53v1M541.5 119.9v-0.9M541.5 53v1M546.5 119.9v-0.9M546.5 53v1M552.5 119.9v-1.7M552.5 53v2.1M557.5 119.9v-0.9M557.5 53v1M562.5 119.9v-0.9M562.5 53v1M568.5 119.9v-0.9M568.5 53v1M573.5 119.9v-0.9M573.5 53v1M578.5 119.9v-1.7M578.5 53v2.1M583.5 119.9v-0.9M583.5 53v1M589.5 119.9v-0.9M589.5 53v1M594.5 119.9v-0.9M594.5 53v1M599.5 119.9v-0.9M599.5 53v1" stroke="#000" stroke-width="0.85" fill="none"/>
<rect x="340.7" y="53" width="264.4" height="66.9" fill="none" stroke="#000" stroke-width="1.4"/>
<path d="M340.7 80.5H343.34V80.29H345.99V80H348.63V79.28H351.28V78.5H353.92V77.79H356.56V77.3H359.21V76.69H361.85V76.11H364.5V75.6H367.14V75.3H369.78V75.1H372.43V74.9H375.07V74.84H377.72V74.78H380.36V74.72H383V74.7H385.65V74.7H388.29V74.7H390.94V74.7H393.58V74.81H396.22V74.91H398.87V75.02H401.51V75.14H404.16V75.3H406.8V75.46H409.44V75.63H412.09V75.89H414.73V76.23H417.38V76.58H420.02V76.93H422.66V77.34H425.31V77.77H427.95V78.2H430.6V78.63H433.24V79H435.88V79.38H438.53V79.75H441.17V80.14H443.82V80.57H446.46V81H449.1V81.43H451.75V81.89H454.39V82.37H457.04V82.88H459.68V83.42H462.32V83.97H464.97V84.51H467.61V85.07H470.26V85.65H472.9V86.24H475.54V86.82H478.19V87.4H480.83V88.03H483.48V88.67H486.12V89.32H488.76V89.96H491.41V90.61H494.05V91.45H496.7V92.32H499.34V93.19H501.98V94.25H504.63V95.31H507.27V96.35H509.92V97.05H512.56V97.74H515.2V98.47H517.85V99.34H520.49V100.21H523.14V100.89H525.78V101.15H528.42V104.06H531.07V105.6H533.71V106.59H536.36V106.8H539V106.8H541.64V106.8H544.29V109.41H546.93V110.19H549.58V114.7H552.22V119.9H554.86V116.6H557.51V114.15H560.15V109.74H562.8V119.9H565.44V116.6H568.08V119.9H570.73V119.9H573.37V119.9H576.02V119.9H578.66V119.9H581.3V119.9H583.95V119.9H586.59V119.9H589.24V119.9H591.88V119.9H594.52V119.9H597.17V119.9H599.81V119.9H602.46V119.9H605.1" stroke="#000" stroke-width="1.8" fill="none"/>
<path d="M340.7 76.89H343.34V75.99H345.99V75.4H348.63V74.48H351.28V73.7H353.92V72.79H356.56V72.2H359.21V71.8H361.85V71.5H364.5V71.3H367.14V71.2H369.78V71.3H372.43V71.3H375.07V71.3H377.72V71.66H380.36V72.04H383V72.42H385.65V72.9H388.29V73.7H390.94V74.51H393.58V75.31H396.22V76.09H398.87V76.86H401.51V77.63H404.16V78.28H406.8V78.81H409.44V79.35H412.09V80.68H414.73V82.65H417.38V83.49H420.02V84.32H422.66V86.1H425.31V89.12H427.95V90.72H430.6V89.52H433.24V92.36H435.88V93H438.53V93.2H441.17V97.79H443.82V98.97H446.46V100.99H449.1V101.97H451.75V103.58H454.39V104.27H457.04V117.79H459.68V108.2H462.32V108.49H464.97V119.9H467.61V119.9H470.26V119.9H472.9V119.9H475.54V119.9H478.19V109.4H480.83V119.9H483.48V119.9H486.12V119.9H488.76V119.9H491.41V119.9H494.05V119.9H496.7V119.9H499.34V119.9H501.98V119.9H504.63V119.9H507.27V119.9H509.92V119.9H512.56V119.9H515.2V119.9H517.85V119.9H520.49V119.9H523.14V119.9H525.78V119.9H528.42V119.9H531.07V119.9H533.71V119.9H536.36V119.9H539V119.9H541.64V119.9H544.29V119.9H546.93V119.9H549.58V119.9H552.22V119.9H554.86V119.9H557.51V119.9H560.15V119.9H562.8V119.9H565.44V119.9H568.08V119.9H570.73V119.9H573.37V119.9H576.02V119.9H578.66V119.9H581.3V119.9H583.95V119.9H586.59V119.9H589.24V119.9H591.88V119.9H594.52V119.9H597.17V119.9H599.81V119.9H602.46V119.9H605.1" stroke="#ff0000" stroke-width="2" fill="none" stroke-dasharray="3.7 2.7"/>
<path d="M340.7 67.27H343.34V63.99H345.99V63.71H348.63V65.52H351.28V66.5H353.92V67.52H356.56V68.49H359.21V71.51H361.85V72H364.5V75.52H367.14V77.96H369.78V79.51H372.43V83.56H375.07V86.94H377.72V90.23H380.36V93.27H383V96.31H385.65V99.63H388.29V102.91H390.94V106.15H393.58V110.2H396.22V114.15H398.87V115.1H401.51V119H404.16V119.9H406.8V119.9H409.44V119.9H412.09V119.9H414.73V119.9H417.38V119.9H420.02V119.9H422.66V119.9H425.31V119.9H427.95V119.9H430.6V119.9H433.24V119.9H435.88V119.9H438.53V119.9H441.17V119.9H443.82V119.9H446.46V119.9H449.1V119.9H451.75V119.9H454.39V119.9H457.04V119.9H459.68V119.9H462.32V119.9H464.97V119.9H467.61V119.9H470.26V119.9H472.9V119.9H475.54V119.9H478.19V119.9H480.83V119.9H483.48V119.9H486.12V119.9H488.76V119.9H491.41V119.9H494.05V119.9H496.7V119.9H499.34V119.9H501.98V119.9H504.63V119.9H507.27V119.9H509.92V119.9H512.56V119.9H515.2V119.9H517.85V119.9H520.49V119.9H523.14V119.9H525.78V119.9H528.42V119.9H531.07V119.9H533.71V119.9H536.36V119.9H539V119.9H541.64V119.9H544.29V119.9H546.93V119.9H549.58V119.9H552.22V119.9H554.86V119.9H557.51V119.9H560.15V119.9H562.8V119.9H565.44V119.9H568.08V119.9H570.73V119.9H573.37V119.9H576.02V119.9H578.66V119.9H581.3V119.9H583.95V119.9H586.59V119.9H589.24V119.9H591.88V119.9H594.52V119.9H597.17V119.9H599.81V119.9H602.46V119.9H605.1" stroke="#0000ff" stroke-width="1.8" fill="none" stroke-dasharray="1.6 1.5"/>
<path d="M340.7 134.5h8.1M605.1 134.5h-8.1M340.7 124.13h4M605.1 124.13h-4M340.7 148.5h8.1M605.1 148.5h-8.1M340.7 138.73h4M605.1 138.73h-4M340.7 163.5h8.1M605.1 163.5h-8.1M340.7 153.33h4M605.1 153.33h-4M340.7 178.5h8.1M605.1 178.5h-8.1M340.7 167.92h4M605.1 167.92h-4M340.7 182.52h4M605.1 182.52h-4M345.5 187.7v-0.9M345.5 119.9v1M351.5 187.7v-0.9M351.5 119.9v1M356.5 187.7v-0.9M356.5 119.9v1M361.5 187.7v-0.9M361.5 119.9v1M367.5 187.7v-1.7M367.5 119.9v2.1M372.5 187.7v-0.9M372.5 119.9v1M377.5 187.7v-0.9M377.5 119.9v1M383.5 187.7v-0.9M383.5 119.9v1M388.5 187.7v-0.9M388.5 119.9v1M393.5 187.7v-1.7M393.5 119.9v2.1M398.5 187.7v-0.9M398.5 119.9v1M404.5 187.7v-0.9M404.5 119.9v1M409.5 187.7v-0.9M409.5 119.9v1M414.5 187.7v-0.9M414.5 119.9v1M420.5 187.7v-1.7M420.5 119.9v2.1M425.5 187.7v-0.9M425.5 119.9v1M430.5 187.7v-0.9M430.5 119.9v1M435.5 187.7v-0.9M435.5 119.9v1M441.5 187.7v-0.9M441.5 119.9v1M446.5 187.7v-1.7M446.5 119.9v2.1M451.5 187.7v-0.9M451.5 119.9v1M457.5 187.7v-0.9M457.5 119.9v1M462.5 187.7v-0.9M462.5 119.9v1M467.5 187.7v-0.9M467.5 119.9v1M472.5 187.7v-1.7M472.5 119.9v2.1M478.5 187.7v-0.9M478.5 119.9v1M483.5 187.7v-0.9M483.5 119.9v1M488.5 187.7v-0.9M488.5 119.9v1M494.5 187.7v-0.9M494.5 119.9v1M499.5 187.7v-1.7M499.5 119.9v2.1M504.5 187.7v-0.9M504.5 119.9v1M509.5 187.7v-0.9M509.5 119.9v1M515.5 187.7v-0.9M515.5 119.9v1M520.5 187.7v-0.9M520.5 119.9v1M525.5 187.7v-1.7M525.5 119.9v2.1M531.5 187.7v-0.9M531.5 119.9v1M536.5 187.7v-0.9M536.5 119.9v1M541.5 187.7v-0.9M541.5 119.9v1M546.5 187.7v-0.9M546.5 119.9v1M552.5 187.7v-1.7M552.5 119.9v2.1M557.5 187.7v-0.9M557.5 119.9v1M562.5 187.7v-0.9M562.5 119.9v1M568.5 187.7v-0.9M568.5 119.9v1M573.5 187.7v-0.9M573.5 119.9v1M578.5 187.7v-1.7M578.5 119.9v2.1M583.5 187.7v-0.9M583.5 119.9v1M589.5 187.7v-0.9M589.5 119.9v1M594.5 187.7v-0.9M594.5 119.9v1M599.5 187.7v-0.9M599.5 119.9v1" stroke="#000" stroke-width="0.85" fill="none"/>
<rect x="340.7" y="119.9" width="264.4" height="67.8" fill="none" stroke="#000" stroke-width="1.4"/>
<path d="M340.7 187.7H343.34V187.7H345.99V187.7H348.63V187.7H351.28V187.7H353.92V187.7H356.56V187.7H359.21V187.7H361.85V187.7H364.5V187.7H367.14V187.7H369.78V187.7H372.43V187.7H375.07V187.7H377.72V187.7H380.36V187.7H383V187.7H385.65V187.7H388.29V187.7H390.94V171.3H393.58V159.08H396.22V152.37H398.87V151.2H401.51V151.78H404.16V152.36H406.8V153.19H409.44V154.08H412.09V154.98H414.73V155.87H417.38V156.9H420.02V158.22H422.66V163.89H425.31V170.85H427.95V182.1H430.6V187.7H433.24V187.7H435.88V187.7H438.53V187.7H441.17V187.7H443.82V187.7H446.46V187.7H449.1V187.7H451.75V180.78H454.39V176.96H457.04V174.93H459.68V172.9H462.32V172.19H464.97V172.1H467.61V172.59H470.26V170.68H472.9V173.42H475.54V173.76H478.19V172.61H480.83V172.37H483.48V174.47H486.12V177.63H488.76V180.29H491.41V186.53H494.05V180.36H496.7V187.7H499.34V187.7H501.98V184.6H504.63V187.7H507.27V187.7H509.92V187.7H512.56V187.7H515.2V187.7H517.85V187.7H520.49V187.7H523.14V187.7H525.78V187.7H528.42V187.7H531.07V187.7H533.71V187.7H536.36V187.7H539V187.7H541.64V187.7H544.29V187.7H546.93V187.7H549.58V187.7H552.22V187.7H554.86V187.7H557.51V187.7H560.15V187.7H562.8V187.7H565.44V187.7H568.08V187.7H570.73V187.7H573.37V187.7H576.02V187.7H578.66V187.7H581.3V187.7H583.95V187.7H586.59V187.7H589.24V187.7H591.88V187.7H594.52V187.7H597.17V187.7H599.81V187.7H602.46V187.7H605.1" stroke="#000" stroke-width="1.8" fill="none"/>
<path d="M340.7 124H343.34V187.7H345.99V187.7H348.63V133.49H351.28V133H353.92V133.57H356.56V137.68H359.21V150H361.85V150H364.5V144.99H367.14V143.03H369.78V142.71H372.43V146.12H375.07V152.49H377.72V154.99H380.36V154.01H383V153.54H385.65V157.46H388.29V159.52H390.94V162.42H393.58V163.5H396.22V165.41H398.87V166H401.51V169.32H404.16V170.99H406.8V174.16H409.44V169.36H412.09V177H414.73V187.7H417.38V187.7H420.02V187.7H422.66V187.7H425.31V187.7H427.95V187.7H430.6V187.7H433.24V187.7H435.88V187.7H438.53V187.7H441.17V187.7H443.82V187.7H446.46V187.7H449.1V187.7H451.75V187.7H454.39V187.7H457.04V187.7H459.68V187.7H462.32V187.7H464.97V187.7H467.61V187.7H470.26V187.7H472.9V187.7H475.54V187.7H478.19V187.7H480.83V187.7H483.48V187.7H486.12V187.7H488.76V187.7H491.41V187.7H494.05V187.7H496.7V187.7H499.34V187.7H501.98V187.7H504.63V187.7H507.27V187.7H509.92V187.7H512.56V187.7H515.2V187.7H517.85V187.7H520.49V187.7H523.14V187.7H525.78V187.7H528.42V187.7H531.07V187.7H533.71V187.7H536.36V187.7H539V187.7H541.64V187.7H544.29V187.7H546.93V187.7H549.58V187.7H552.22V187.7H554.86V187.7H557.51V187.7H560.15V187.7H562.8V187.7H565.44V187.7H568.08V187.7H570.73V187.7H573.37V187.7H576.02V187.7H578.66V187.7H581.3V187.7H583.95V187.7H586.59V187.7H589.24V187.7H591.88V187.7H594.52V187.7H597.17V187.7H599.81V187.7H602.46V187.7H605.1" stroke="#ff0000" stroke-width="2" fill="none" stroke-dasharray="3.7 2.7"/>
<path d="M340.7 125.93H343.34V129.49H345.99V132.25H348.63V134.94H351.28V139.35H353.92V144.14H356.56V146.79H359.21V151.21H361.85V156.34H364.5V161.02H367.14V166.08H369.78V171.5H372.43V177.94H375.07V185.69H377.72V187.7H380.36V187.7H383V187.7H385.65V187.7H388.29V187.7H390.94V187.7H393.58V187.7H396.22V187.7H398.87V187.7H401.51V187.7H404.16V187.7H406.8V187.7H409.44V187.7H412.09V187.7H414.73V187.7H417.38V187.7H420.02V187.7H422.66V187.7H425.31V187.7H427.95V187.7H430.6V187.7H433.24V187.7H435.88V187.7H438.53V187.7H441.17V187.7H443.82V187.7H446.46V187.7H449.1V187.7H451.75V187.7H454.39V187.7H457.04V187.7H459.68V187.7H462.32V187.7H464.97V187.7H467.61V187.7H470.26V187.7H472.9V187.7H475.54V187.7H478.19V187.7H480.83V187.7H483.48V187.7H486.12V187.7H488.76V187.7H491.41V187.7H494.05V187.7H496.7V187.7H499.34V187.7H501.98V187.7H504.63V187.7H507.27V187.7H509.92V187.7H512.56V187.7H515.2V187.7H517.85V187.7H520.49V187.7H523.14V187.7H525.78V187.7H528.42V187.7H531.07V187.7H533.71V187.7H536.36V187.7H539V187.7H541.64V187.7H544.29V187.7H546.93V187.7H549.58V187.7H552.22V187.7H554.86V187.7H557.51V187.7H560.15V187.7H562.8V187.7H565.44V187.7H568.08V187.7H570.73V187.7H573.37V187.7H576.02V187.7H578.66V187.7H581.3V187.7H583.95V187.7H586.59V187.7H589.24V187.7H591.88V187.7H594.52V187.7H597.17V187.7H599.81V187.7H602.46V187.7H605.1" stroke="#0000ff" stroke-width="1.8" fill="none" stroke-dasharray="1.6 1.5"/>
<path d="M340.7 202.5h8.1M605.1 202.5h-8.1M340.7 191.93h4M605.1 191.93h-4M340.7 216.5h8.1M605.1 216.5h-8.1M340.7 206.53h4M605.1 206.53h-4M340.7 231.5h8.1M605.1 231.5h-8.1M340.7 221.13h4M605.1 221.13h-4M340.7 245.5h8.1M605.1 245.5h-8.1M340.7 235.72h4M605.1 235.72h-4M340.7 250.32h4M605.1 250.32h-4M345.5 255.5v-0.9M345.5 187.7v1M351.5 255.5v-0.9M351.5 187.7v1M356.5 255.5v-0.9M356.5 187.7v1M361.5 255.5v-0.9M361.5 187.7v1M367.5 255.5v-1.7M367.5 187.7v2.1M372.5 255.5v-0.9M372.5 187.7v1M377.5 255.5v-0.9M377.5 187.7v1M383.5 255.5v-0.9M383.5 187.7v1M388.5 255.5v-0.9M388.5 187.7v1M393.5 255.5v-1.7M393.5 187.7v2.1M398.5 255.5v-0.9M398.5 187.7v1M404.5 255.5v-0.9M404.5 187.7v1M409.5 255.5v-0.9M409.5 187.7v1M414.5 255.5v-0.9M414.5 187.7v1M420.5 255.5v-1.7M420.5 187.7v2.1M425.5 255.5v-0.9M425.5 187.7v1M430.5 255.5v-0.9M430.5 187.7v1M435.5 255.5v-0.9M435.5 187.7v1M441.5 255.5v-0.9M441.5 187.7v1M446.5 255.5v-1.7M446.5 187.7v2.1M451.5 255.5v-0.9M451.5 187.7v1M457.5 255.5v-0.9M457.5 187.7v1M462.5 255.5v-0.9M462.5 187.7v1M467.5 255.5v-0.9M467.5 187.7v1M472.5 255.5v-1.7M472.5 187.7v2.1M478.5 255.5v-0.9M478.5 187.7v1M483.5 255.5v-0.9M483.5 187.7v1M488.5 255.5v-0.9M488.5 187.7v1M494.5 255.5v-0.9M494.5 187.7v1M499.5 255.5v-1.7M499.5 187.7v2.1M504.5 255.5v-0.9M504.5 187.7v1M509.5 255.5v-0.9M509.5 187.7v1M515.5 255.5v-0.9M515.5 187.7v1M520.5 255.5v-0.9M520.5 187.7v1M525.5 255.5v-1.7M525.5 187.7v2.1M531.5 255.5v-0.9M531.5 187.7v1M536.5 255.5v-0.9M536.5 187.7v1M541.5 255.5v-0.9M541.5 187.7v1M546.5 255.5v-0.9M546.5 187.7v1M552.5 255.5v-1.7M552.5 187.7v2.1M557.5 255.5v-0.9M557.5 187.7v1M562.5 255.5v-0.9M562.5 187.7v1M568.5 255.5v-0.9M568.5 187.7v1M573.5 255.5v-0.9M573.5 187.7v1M578.5 255.5v-1.7M578.5 187.7v2.1M583.5 255.5v-0.9M583.5 187.7v1M589.5 255.5v-0.9M589.5 187.7v1M594.5 255.5v-0.9M594.5 187.7v1M599.5 255.5v-0.9M599.5 187.7v1" stroke="#000" stroke-width="0.85" fill="none"/>
<rect x="340.7" y="187.7" width="264.4" height="67.8" fill="none" stroke="#000" stroke-width="1.4"/>
<path d="M340.7 255.5H343.34V255.5H345.99V255.5H348.63V255.5H351.28V255.5H353.92V255.5H356.56V255.5H359.21V255.5H361.85V255.5H364.5V255.5H367.14V255.5H369.78V255.5H372.43V255.5H375.07V255.5H377.72V255.5H380.36V255.5H383V255.5H385.65V255.5H388.29V255.5H390.94V255.5H393.58V255.5H396.22V255.5H398.87V255.5H401.51V255.5H404.16V255.5H406.8V255.5H409.44V255.5H412.09V255.5H414.73V255.5H417.38V246.12H420.02V234.27H422.66V230.36H425.31V226.4H427.95V226.4H430.6V226.8H433.24V227.41H435.88V228.01H438.53V228.61H441.17V229.41H443.82V230.21H446.46V231.41H449.1V232H451.75V232.41H454.39V233.5H457.04V234.01H459.68V235.01H462.32V235.81H464.97V236.51H467.61V237.61H470.26V238.51H472.9V239.61H475.54V240.51H478.19V241.41H480.83V242.41H483.48V243.4H486.12V244.01H488.76V244.71H491.41V245.5H494.05V246H496.7V246.5H499.34V246.99H501.98V245.59H504.63V244.2H507.27V244.29H509.92V254.46H512.56V249.34H515.2V254.42H517.85V246.46H520.49V254.44H523.14V247.88H525.78V245.6H528.42V245.6H531.07V245.62H533.71V248.62H536.36V250.8H539V251.48H541.64V249.3H544.29V249.31H546.93V250.81H549.58V252.3H552.22V252.3H554.86V255.5H557.51V255.5H560.15V252.3H562.8V255.5H565.44V255.5H568.08V255.5H570.73V255.5H573.37V255.5H576.02V255.5H578.66V249.3H581.3V249.3H583.95V255.5H586.59V255.5H589.24V255.5H591.88V255.5H594.52V255.5H597.17V255.5H599.81V255.5H602.46V255.5H605.1" stroke="#000" stroke-width="1.8" fill="none"/>
<path d="M340.7 190.9H343.34V255.5H345.99V255.5H348.63V255.5H351.28V255.5H353.92V246.65H356.56V212.18H359.21V206.01H361.85V206.5H364.5V208.02H367.14V210.96H369.78V212.8H372.43V213.52H375.07V214.7H377.72V214.67H380.36V214.65H383V214.62H385.65V214.71H388.29V215.14H390.94V215.56H393.58V215.99H396.22V216.31H398.87V216.52H401.51V216.74H404.16V216.95H406.8V217.33H409.44V217.76H412.09V218.19H414.73V218.62H417.38V219.02H420.02V219.42H422.66V219.83H425.31V220.3H427.95V220.92H430.6V221.52H433.24V221.72H435.88V221.92H438.53V222.16H441.17V222.79H443.82V223.41H446.46V223.88H449.1V224.32H451.75V224.94H454.39V225.67H457.04V226.41H459.68V227.52H462.32V229.49H464.97V227.99H467.61V226.91H470.26V227.5H472.9V228.22H475.54V230.7H478.19V230.99H480.83V229.49H483.48V228.21H486.12V229.02H488.76V231.01H491.41V232.02H494.05V234.58H496.7V232.01H499.34V232.99H501.98V231.62H504.63V233.83H507.27V237.49H509.92V235.97H512.56V230.93H515.2V234.05H517.85V238.97H520.49V235.52H523.14V237.49H525.78V235.53H528.42V239.49H531.07V238.04H533.71V242.93H536.36V235H539V235.33H541.64V238.55H544.29V243.47H546.93V239.02H549.58V240.99H552.22V239.7H554.86V239.73H557.51V242.97H560.15V239.73H562.8V243.42H565.44V246.41H568.08V248.04H570.73V251.95H573.37V245H576.02V255.5H578.66V255.5H581.3V255.5H583.95V255.5H586.59V255.5H589.24V255.5H591.88V255.5H594.52V255.5H597.17V255.5H599.81V255.5H602.46V255.5H605.1" stroke="#ff0000" stroke-width="2" fill="none" stroke-dasharray="3.7 2.7"/>
<path d="M340.7 205.54H343.34V210.01H345.99V210.49H348.63V210.41H351.28V210.34H353.92V209.89H356.56V209H359.21V208.91H361.85V208.82H364.5V208.73H367.14V208.7H369.78V208.7H372.43V208.7H375.07V208.7H377.72V208.96H380.36V209.23H383V209.5H385.65V209.77H388.29V210.03H390.94V210.3H393.58V210.57H396.22V210.9H398.87V211.3H401.51V211.71H404.16V212.11H406.8V212.61H409.44V213.15H412.09V213.69H414.73V214.23H417.38V214.77H420.02V215.3H422.66V215.83H425.31V216.37H427.95V216.9H430.6V217.44H433.24V217.97H435.88V218.55H438.53V219.17H441.17V219.79H443.82V220.42H446.46V220.96H449.1V221.5H451.75V222.03H454.39V222.61H457.04V223.56H459.68V224.5H462.32V225.45H464.97V226.4H467.61V227.27H470.26V228.06H472.9V228.85H475.54V229.64H478.19V230.43H480.83V231.24H483.48V232.05H486.12V232.86H488.76V233.67H491.41V234.49H494.05V234.81H496.7V235.06H499.34V235.31H501.98V237.02H504.63V239.01H507.27V240.51H509.92V242.01H512.56V243.01H515.2V244.22H517.85V246.01H520.49V247.51H523.14V248.61H525.78V250.01H528.42V251.48H531.07V248.97H533.71V245.61H536.36V247.14H539V252.97H541.64V249.99H544.29V249.04H546.93V253.8H549.58V255.5H552.22V255.5H554.86V255.5H557.51V255.5H560.15V255.5H562.8V255.5H565.44V255.5H568.08V255.5H570.73V255.5H573.37V255.5H576.02V255.5H578.66V255.5H581.3V255.5H583.95V255.5H586.59V255.5H589.24V255.5H591.88V255.5H594.52V255.5H597.17V255.5H599.81V255.5H602.46V255.5H605.1" stroke="#0000ff" stroke-width="1.8" fill="none" stroke-dasharray="1.6 1.5"/>
<path d="M340.7 270.5h4.4M605.1 270.5h-4.4M340.7 259.76h2M605.1 259.76h-2M340.7 284.5h4.4M605.1 284.5h-4.4M340.7 274.44h2M605.1 274.44h-2M340.7 299.5h4.4M605.1 299.5h-4.4M340.7 289.12h2M605.1 289.12h-2M340.7 314.5h4.4M605.1 314.5h-4.4M340.7 303.8h2M605.1 303.8h-2M340.7 318.49h2M605.1 318.49h-2M345.5 323.7v-1.5M345.5 255.5v1.6M351.5 323.7v-1.5M351.5 255.5v1.6M356.5 323.7v-1.5M356.5 255.5v1.6M361.5 323.7v-1.5M361.5 255.5v1.6M367.5 323.7v-2.9M367.5 255.5v3.2M372.5 323.7v-1.5M372.5 255.5v1.6M377.5 323.7v-1.5M377.5 255.5v1.6M383.5 323.7v-1.5M383.5 255.5v1.6M388.5 323.7v-1.5M388.5 255.5v1.6M393.5 323.7v-2.9M393.5 255.5v3.2M398.5 323.7v-1.5M398.5 255.5v1.6M404.5 323.7v-1.5M404.5 255.5v1.6M409.5 323.7v-1.5M409.5 255.5v1.6M414.5 323.7v-1.5M414.5 255.5v1.6M420.5 323.7v-2.9M420.5 255.5v3.2M425.5 323.7v-1.5M425.5 255.5v1.6M430.5 323.7v-1.5M430.5 255.5v1.6M435.5 323.7v-1.5M435.5 255.5v1.6M441.5 323.7v-1.5M441.5 255.5v1.6M446.5 323.7v-2.9M446.5 255.5v3.2M451.5 323.7v-1.5M451.5 255.5v1.6M457.5 323.7v-1.5M457.5 255.5v1.6M462.5 323.7v-1.5M462.5 255.5v1.6M467.5 323.7v-1.5M467.5 255.5v1.6M472.5 323.7v-2.9M472.5 255.5v3.2M478.5 323.7v-1.5M478.5 255.5v1.6M483.5 323.7v-1.5M483.5 255.5v1.6M488.5 323.7v-1.5M488.5 255.5v1.6M494.5 323.7v-1.5M494.5 255.5v1.6M499.5 323.7v-2.9M499.5 255.5v3.2M504.5 323.7v-1.5M504.5 255.5v1.6M509.5 323.7v-1.5M509.5 255.5v1.6M515.5 323.7v-1.5M515.5 255.5v1.6M520.5 323.7v-1.5M520.5 255.5v1.6M525.5 323.7v-2.9M525.5 255.5v3.2M531.5 323.7v-1.5M531.5 255.5v1.6M536.5 323.7v-1.5M536.5 255.5v1.6M541.5 323.7v-1.5M541.5 255.5v1.6M546.5 323.7v-1.5M546.5 255.5v1.6M552.5 323.7v-2.9M552.5 255.5v3.2M557.5 323.7v-1.5M557.5 255.5v1.6M562.5 323.7v-1.5M562.5 255.5v1.6M568.5 323.7v-1.5M568.5 255.5v1.6M573.5 323.7v-1.5M573.5 255.5v1.6M578.5 323.7v-2.9M578.5 255.5v3.2M583.5 323.7v-1.5M583.5 255.5v1.6M589.5 323.7v-1.5M589.5 255.5v1.6M594.5 323.7v-1.5M594.5 255.5v1.6M599.5 323.7v-1.5M599.5 255.5v1.6" stroke="#000" stroke-width="0.85" fill="none"/>
<rect x="340.7" y="255.5" width="264.4" height="68.2" fill="none" stroke="#000" stroke-width="1.4"/>
<path d="M340.7 255.5H343.34V323.7H345.99V323.7H348.63V323.7H351.28V323.7H353.92V323.7H356.56V323.7H359.21V323.7H361.85V323.7H364.5V323.7H367.14V323.7H369.78V323.7H372.43V323.7H375.07V323.7H377.72V323.7H380.36V323.7H383V323.7H385.65V323.7H388.29V323.7H390.94V323.7H393.58V323.7H396.22V323.7H398.87V323.7H401.51V323.7H404.16V323.7H406.8V323.7H409.44V323.7H412.09V323.7H414.73V323.7H417.38V323.7H420.02V323.7H422.66V323.7H425.31V323.7H427.95V323.7H430.6V323.7H433.24V323.7H435.88V323.7H438.53V323.7H441.17V323.7H443.82V323.7H446.46V323.7H449.1V323.7H451.75V323.7H454.39V323.7H457.04V323.7H459.68V323.7H462.32V323.7H464.97V323.7H467.61V323.7H470.26V323.7H472.9V323.7H475.54V323.7H478.19V323.7H480.83V323.7H483.48V323.7H486.12V323.7H488.76V323.7H491.41V323.7H494.05V323.7H496.7V323.7H499.34V323.7H501.98V323.7H504.63V323.7H507.27V323.7H509.92V323.7H512.56V323.7H515.2V323.7H517.85V323.7H520.49V323.7H523.14V323.7H525.78V323.7H528.42V323.7H531.07V323.7H533.71V323.7H536.36V323.7H539V323.7H541.64V323.7H544.29V312H546.93V314.82H549.58V315H552.22V323.7H554.86V312H557.51V323.7H560.15V323.7H562.8V323.7H565.44V323.7H568.08V323.7H570.73V323.7H573.37V323.7H576.02V323.7H578.66V323.7H581.3V323.7H583.95V312H586.59V323.7H589.24V323.7H591.88V323.7H594.52V323.7H597.17V323.7H599.81V323.7H602.46V323.7H605.1" stroke="#ff0000" stroke-width="2" fill="none" stroke-dasharray="3.7 2.7"/>
<path d="M340.7 255.5H343.34V323.7H345.99V323.7H348.63V323.7H351.28V323.7H353.92V323.7H356.56V323.7H359.21V323.7H361.85V323.7H364.5V323.7H367.14V323.7H369.78V323.7H372.43V323.7H375.07V323.7H377.72V323.7H380.36V303.3H383V289.88H385.65V282.58H388.29V282.21H390.94V282.2H393.58V283.53H396.22V284.65H398.87V285.53H401.51V286.41H404.16V287.29H406.8V288.12H409.44V288.93H412.09V289.74H414.73V290.53H417.38V290.97H420.02V291.41H422.66V292.21H425.31V293.1H427.95V293.1H430.6V292.38H433.24V292.05H435.88V292.49H438.53V292.93H441.17V293.27H443.82V293.6H446.46V293.92H449.1V294.12H451.75V294.32H454.39V294.55H457.04V294.99H459.68V295.43H462.32V296.11H464.97V297.16H467.61V298.2H470.26V298.63H472.9V298.5H475.54V298.37H478.19V298.24H480.83V297.96H483.48V297.6H486.12V298.34H488.76V299.49H491.41V300.64H494.05V301.1H496.7V301.45H499.34V301.8H501.98V302.92H504.63V304.05H507.27V305.07H509.92V304.61H512.56V304.16H515.2V303.98H517.85V304.88H520.49V305.79H523.14V306.63H525.78V307.33H528.42V308.03H531.07V306.77H533.71V305.29H536.36V309.04H539V310.69H541.64V309.01H544.29V308.85H546.93V310.5H549.58V310.94H552.22V309.92H554.86V313.36H557.51V314.06H560.15V314.62H562.8V315.08H565.44V314.92H568.08V314.17H570.73V319.41H573.37V319.85H576.02V318.53H578.66V317.34H581.3V317.92H583.95V320.6H586.59V323.7H589.24V323.7H591.88V323.7H594.52V323.7H597.17V319.3H599.81V319.21H602.46V312.06H605.1" stroke="#0000ff" stroke-width="1.8" fill="none" stroke-dasharray="1.6 1.5"/>
<text x="31.6" y="73.1" font-size="12.3" fill="#000">10<tspan font-size="9.3" dy="-4.5">&#8722;</tspan><tspan font-size="9.3" dy="-1.3">1</tspan></text>
<text x="30.1" y="87.5" font-size="12.3" fill="#000">10<tspan font-size="9.3" dy="-4.5">&#8722;</tspan><tspan font-size="9.3" dy="-1.3">2</tspan></text>
<text x="30.1" y="101.9" font-size="12.3" fill="#000">10<tspan font-size="9.3" dy="-4.5">&#8722;</tspan><tspan font-size="9.3" dy="-1.3">3</tspan></text>
<text x="30.1" y="116.31" font-size="12.3" fill="#000">10<tspan font-size="9.3" dy="-4.5">&#8722;</tspan><tspan font-size="9.3" dy="-1.3">4</tspan></text>
<text x="31.6" y="140.19" font-size="12.3" fill="#000">10<tspan font-size="9.3" dy="-4.5">&#8722;</tspan><tspan font-size="9.3" dy="-1.3">1</tspan></text>
<text x="30.1" y="154.78" font-size="12.3" fill="#000">10<tspan font-size="9.3" dy="-4.5">&#8722;</tspan><tspan font-size="9.3" dy="-1.3">2</tspan></text>
<text x="30.1" y="169.38" font-size="12.3" fill="#000">10<tspan font-size="9.3" dy="-4.5">&#8722;</tspan><tspan font-size="9.3" dy="-1.3">3</tspan></text>
<text x="30.1" y="183.97" font-size="12.3" fill="#000">10<tspan font-size="9.3" dy="-4.5">&#8722;</tspan><tspan font-size="9.3" dy="-1.3">4</tspan></text>
<text x="31.6" y="207.99" font-size="12.3" fill="#000">10<tspan font-size="9.3" dy="-4.5">&#8722;</tspan><tspan font-size="9.3" dy="-1.3">1</tspan></text>
<text x="30.1" y="222.58" font-size="12.3" fill="#000">10<tspan font-size="9.3" dy="-4.5">&#8722;</tspan><tspan font-size="9.3" dy="-1.3">2</tspan></text>
<text x="30.1" y="237.18" font-size="12.3" fill="#000">10<tspan font-size="9.3" dy="-4.5">&#8722;</tspan><tspan font-size="9.3" dy="-1.3">3</tspan></text>
<text x="30.1" y="251.77" font-size="12.3" fill="#000">10<tspan font-size="9.3" dy="-4.5">&#8722;</tspan><tspan font-size="9.3" dy="-1.3">4</tspan></text>
<text x="31.45" y="276.57" font-size="13.8" fill="#000">10<tspan font-size="9.7" dy="-5.0">&#8722;</tspan><tspan font-size="9.7" dy="-0.9">1</tspan></text>
<text x="30.45" y="291.25" font-size="13.8" fill="#000">10<tspan font-size="9.7" dy="-5.0">&#8722;</tspan><tspan font-size="9.7" dy="-0.9">2</tspan></text>
<text x="30.45" y="305.93" font-size="13.8" fill="#000">10<tspan font-size="9.7" dy="-5.0">&#8722;</tspan><tspan font-size="9.7" dy="-0.9">3</tspan></text>
<text x="30.45" y="320.62" font-size="13.8" fill="#000">10<tspan font-size="9.7" dy="-5.0">&#8722;</tspan><tspan font-size="9.7" dy="-0.9">4</tspan></text>
<text x="61.7" y="338" font-size="12.6" text-anchor="middle" fill="#000">0</text>
<text x="87.3" y="338" font-size="12.6" text-anchor="middle" fill="#000">0.1</text>
<text x="113.4" y="338" font-size="12.6" text-anchor="middle" fill="#000">0.2</text>
<text x="139.5" y="338" font-size="12.6" text-anchor="middle" fill="#000">0.3</text>
<text x="165.6" y="338" font-size="12.6" text-anchor="middle" fill="#000">0.4</text>
<text x="191.7" y="338" font-size="12.6" text-anchor="middle" fill="#000">0.5</text>
<text x="217.8" y="338" font-size="12.6" text-anchor="middle" fill="#000">0.6</text>
<text x="243.9" y="338" font-size="12.6" text-anchor="middle" fill="#000">0.7</text>
<text x="270" y="338" font-size="12.6" text-anchor="middle" fill="#000">0.8</text>
<text x="296.1" y="338" font-size="12.6" text-anchor="middle" fill="#000">0.9</text>
<text x="322.7" y="338" font-size="12.6" text-anchor="middle" fill="#000">1</text>
<text x="339.7" y="338" font-size="12.6" text-anchor="middle" fill="#000">0</text>
<text x="366.14" y="338" font-size="12.6" text-anchor="middle" fill="#000">0.1</text>
<text x="391.88" y="338" font-size="12.6" text-anchor="middle" fill="#000">0.2</text>
<text x="418.32" y="338" font-size="12.6" text-anchor="middle" fill="#000">0.3</text>
<text x="444.76" y="338" font-size="12.6" text-anchor="middle" fill="#000">0.4</text>
<text x="471.2" y="338" font-size="12.6" text-anchor="middle" fill="#000">0.5</text>
<text x="497.64" y="338" font-size="12.6" text-anchor="middle" fill="#000">0.6</text>
<text x="524.08" y="338" font-size="12.6" text-anchor="middle" fill="#000">0.7</text>
<text x="550.52" y="338" font-size="12.6" text-anchor="middle" fill="#000">0.8</text>
<text x="576.96" y="338" font-size="12.6" text-anchor="middle" fill="#000">0.9</text>
<text x="605.1" y="338" font-size="12.6" text-anchor="middle" fill="#000">1</text>
<text x="177.1" y="361.1" font-size="13.8" fill="#000">Fraction of Jet Energy</text>
<text x="465.9" y="361.1" font-size="13.8" fill="#000">Fraction of Jet Energy</text>
<text transform="translate(15.6 200.6) rotate(-90)" x="0" y="0" font-size="18.6" fill="#000">Fraction of Jets</text>
<text x="178.4" y="69.6" font-size="12.3" fill="#000">Hadron, p&lt;20 GeV</text>
<text x="487.2" y="69.6" font-size="12.3" fill="#000">e/&#947;, p&lt;20 GeV</text>
<text x="178.4" y="137.4" font-size="12.3" fill="#000">Hadron, 20&lt;p/GeV&lt;30</text>
<text x="487.2" y="137.4" font-size="12.3" fill="#000">e/&#947;, 20&lt;p/GeV&lt;30</text>
<text x="178.4" y="205.2" font-size="12.3" fill="#000">Hadron, 30&lt;p/GeV&lt;350</text>
<text x="487.2" y="205.2" font-size="12.3" fill="#000">e/&#947;, 30&lt;p/GeV&lt;350</text>
<text x="178.4" y="273" font-size="12.3" fill="#000">Hadron, p&gt;350 GeV</text>
<text x="487.2" y="273" font-size="12.3" fill="#000">e/&#947;, p&gt;350 GeV</text>
<text x="68.3" y="22.7" font-size="17.2" font-weight="bold" font-style="italic" letter-spacing="0.3" fill="#000">ATLAS</text>
<text x="132.1" y="22.8" font-size="17.5" fill="#000">Simulation</text>
<path d="M70.2 37.4 L71.2 36.9 L73.2 45.4 L76.1 31.1 H85.4" stroke="#000" stroke-width="1.25" fill="none" stroke-linejoin="miter"/>
<text x="77.0" y="45.1" font-size="17.4" fill="#000">s=8</text>
<text x="111.9" y="45.1" font-size="17.4" fill="#000">TeV,</text>
<text x="151.1" y="45.1" font-size="17.4" fill="#000">PYTHIA8 Dijets</text>
<line x1="351.2" y1="11.4" x2="397.4" y2="11.4" stroke="#000" stroke-width="2"/>
<line x1="351.2" y1="26.7" x2="397.4" y2="26.7" stroke="#ff0000" stroke-width="2" stroke-dasharray="3.7 2.7"/>
<line x1="351.2" y1="41.8" x2="397.4" y2="41.8" stroke="#0000ff" stroke-width="1.8" stroke-dasharray="1.7 1.6"/>
<text x="406.6" y="14.75" font-size="12" fill="#000">90&lt;</text>
<text x="431.1" y="14.75" font-size="12" fill="#000">p</text>
<text x="438.07" y="7.45" font-size="8.4" fill="#000">jet</text>
<text x="438.17" y="20.75" font-size="8.4" fill="#000">T</text>
<text x="450.27" y="14.75" font-size="12.2" fill="#000">/ GeV &lt;100, |&#951;|&lt;0.6</text>
<text x="406.6" y="29.5" font-size="12" fill="#000">400&lt;</text>
<text x="437.6" y="29.5" font-size="12" fill="#000">p</text>
<text x="444.57" y="22.2" font-size="8.4" fill="#000">jet</text>
<text x="444.67" y="35.5" font-size="8.4" fill="#000">T</text>
<text x="456.77" y="29.5" font-size="12.2" fill="#000">/ GeV &lt;500, |&#951;|&lt;0.6</text>
<text x="406.6" y="43.6" font-size="12" fill="#000">1800&lt;</text>
<text x="444.5" y="43.6" font-size="12" fill="#000">p</text>
<text x="451.47" y="36.3" font-size="8.4" fill="#000">jet</text>
<text x="451.57" y="49.6" font-size="8.4" fill="#000">T</text>
<text x="463.67" y="43.6" font-size="12.2" fill="#000">/ GeV &lt;2300, |&#951;|&lt;0.6</text>
</svg>
</body></html>
